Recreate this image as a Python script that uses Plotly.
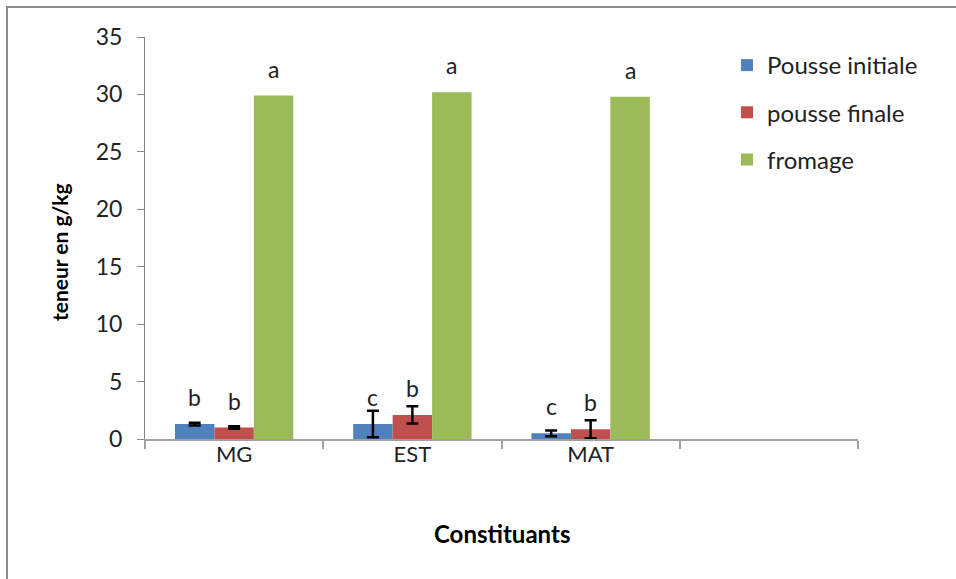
import plotly.graph_objects as go

# Constituent categories (4th slot left empty on the axis)
categories = ["MG", "EST", "MAT"]
axis_slots = ["MG", "EST", "MAT", " "]

series_names = ["Pousse initiale", "pousse finale", "fromage"]
pousse_initiale = [1.3, 1.3, 0.5]
pousse_finale = [1.0, 2.1, 0.85]
fromage = [29.9, 30.2, 29.8]

err_initiale = [0.12, 1.15, 0.25]
err_finale = [0.1, 0.75, 0.78]
err_fromage = [0, 0, 0]

letters_initiale = ["b", "c", "c"]
letters_finale = ["b", "b", "b"]
letters_fromage = ["a", "a", "a"]

colors = ["#4F81BD", "#C0504D", "#9BBB59"]
FONT = "Lato, Calibri, sans-serif"

values = [pousse_initiale, pousse_finale, fromage]
errors = [err_initiale, err_finale, err_fromage]
letters = [letters_initiale, letters_finale, letters_fromage]

bargap = 0.336
bar_w = (1 - bargap) / 3

W, H = 956, 579
ml, mr, mt, mb = 145, 98, 37, 140
pw, ph = W - ml - mr, H - mt - mb


def px_x(x):
    return (x - ml) / pw


def px_y(y):
    return (H - mb - y) / ph


fig = go.Figure()
for k, name in enumerate(series_names):
    fig.add_trace(go.Bar(
        x=categories, y=values[k], name=name,
        marker=dict(color=colors[k], line=dict(width=0)),
        error_y=dict(type="data", array=errors[k], visible=any(errors[k]),
                     color="black", thickness=2.5, width=6),
        legendgroup=name,
    ))

# Significance letters above each bar
annotations = []
for k in range(3):
    for i in range(len(categories)):
        annotations.append(dict(
            x=i + (k - 1) * bar_w, y=values[k][i], xref="x", yref="y",
            text=letters[k][i], showarrow=False, yanchor="bottom",
            yshift=11, font=dict(family=FONT, size=23, color="#222222"),
        ))

# Axis titles
annotations.append(dict(
    x=px_x(60), y=px_y(252), xref="paper", yref="paper",
    xanchor="center", yanchor="middle",
    text="<b>teneur en g/kg</b>", showarrow=False, textangle=-90,
    font=dict(family=FONT, size=21, color="black"),
))
annotations.append(dict(
    x=0.5, y=px_y(533), xref="paper", yref="paper",
    xanchor="center", yanchor="middle",
    text="<b>Constituants</b>", showarrow=False,
    font=dict(family=FONT, size=24, color="black"),
))

# Outer chart frame (top and left edges)
shapes = [
    dict(type="line", xref="paper", yref="paper",
         x0=px_x(6), x1=px_x(W), y0=px_y(7), y1=px_y(7),
         line=dict(color="#8c8c8c", width=2)),
    dict(type="line", xref="paper", yref="paper",
         x0=px_x(7), x1=px_x(7), y0=px_y(7), y1=px_y(H),
         line=dict(color="#8c8c8c", width=2)),
]

fig.update_layout(
    width=W, height=H,
    margin=dict(l=ml, r=mr, t=mt, b=mb),
    paper_bgcolor="white", plot_bgcolor="white",
    barmode="group", bargap=bargap, bargroupgap=0,
    font=dict(family=FONT, size=20, color="#222222"),
    showlegend=True,
    legend=dict(
        x=px_x(727), y=px_y(43), xanchor="left", yanchor="top",
        font=dict(family=FONT, size=24, color="#222222"),
        traceorder="grouped", tracegroupgap=13, bgcolor="rgba(0,0,0,0)",
    ),
    annotations=annotations,
    shapes=shapes,
    xaxis=dict(
        type="category", categoryorder="array", categoryarray=axis_slots,
        range=[-0.5, 3.5], tickson="boundaries",
        ticks="outside", ticklen=8, tickcolor="#a0a0a0", tickwidth=1.5,
        showline=True, linecolor="#a0a0a0", linewidth=1.5,
        showgrid=False, zeroline=False, ticklabelstandoff=-5,
        tickfont=dict(family=FONT, size=22, color="#222222"),
    ),
    yaxis=dict(
        range=[0, 35], dtick=5, tick0=0,
        ticks="outside", ticklen=7, tickcolor="#868686", tickwidth=1,
        showline=True, linecolor="#868686", linewidth=1,
        showgrid=False, zeroline=False, ticklabelstandoff=10,
        tickfont=dict(family=FONT, size=23, color="#222222"),
    ),
)

fig.write_html("out.html")
